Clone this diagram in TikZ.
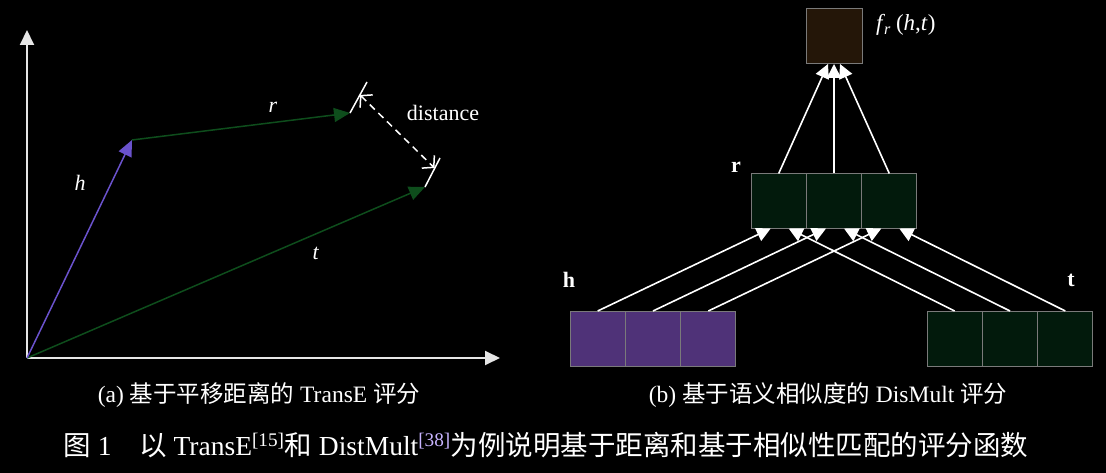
\documentclass[tikz,border=0pt]{standalone}
\usepackage{fontspec}
\setmainfont{Liberation Serif}
\newfontfamily\cjk{Noto Sans CJK SC}
\usetikzlibrary{arrows.meta}
\definecolor{axisgray}{HTML}{E6E6E6}
\definecolor{hpurple}{HTML}{6A52CC}
\definecolor{vgreen}{HTML}{0E4D1C}
\definecolor{boxpurple}{HTML}{4F3278}
\definecolor{boxgreen}{HTML}{021A0C}
\definecolor{boxbrown}{HTML}{241608}
\definecolor{boxborder}{HTML}{7A7A7A}
\definecolor{reflilac}{HTML}{C8B4FF}
\tikzset{
  axis/.style={draw=axisgray, line width=2pt, -{Triangle[length=15pt,width=14pt]}},
  vec/.style={line width=1.5pt, -{Triangle[length=16pt,width=14pt]}},
  tickline/.style={draw=white, line width=1.5pt},
  dist/.style={draw=white, line width=1.5pt, dash pattern=on 7pt off 5pt,
    {Straight Barb[length=8pt,width=18pt]}-{Straight Barb[length=8pt,width=18pt]}},
  lab/.style={text=white, font=\fontsize{22}{26}\selectfont, inner sep=0pt},
  cell/.style={draw=boxborder, line width=1pt, minimum width=55.3pt, minimum height=55pt, inner sep=0pt, outer sep=0pt},
  conn/.style={draw=white, line width=1.6pt, -{Triangle[length=14pt,width=14pt]}},
  subcap/.style={text=white, font=\fontsize{23.5}{27}\selectfont, inner sep=0pt},
  bigcap/.style={text=white, font=\fontsize{27.5}{31}\selectfont, inner sep=0pt}
}
\begin{document}
\begin{tikzpicture}[x=1pt,y=-1pt]
\fill[black] (0,0) rectangle (1106,473);
\useasboundingbox (0,0) rectangle (1106,473);
% ---------- panel (a) ----------
\coordinate (O) at (27,358);
\coordinate (Ytip) at (27,30);
\coordinate (Xtip) at (500,358);
\coordinate (H) at (132,140);
\coordinate (R) at (350,113);
\coordinate (T) at (425,187);
\coordinate (Rt) at (367,82);
\coordinate (Tt) at (440,158);
\coordinate (D1) at (360,95);
\coordinate (D2) at (434.5,168);
\draw[axis] (O) -- (Ytip);
\draw[axis] (O) -- (Xtip);
\draw[vec, draw=vgreen, fill=vgreen] (O) -- (T);
\draw[vec, draw=hpurple, fill=hpurple] (O) -- (H);
\draw[vec, draw=vgreen, fill=vgreen] (H) -- (R);
\draw[tickline] (R) -- (Rt);
\draw[tickline] (T) -- (Tt);
\draw[dist] (D1) -- (D2);
\node[lab] (lr) at (273,107) {\textit{r}};
\node[lab] (lh) at (80,183) {\textit{h}};
\node[lab] (lt) at (316,253) {\textit{t}};
\node[lab] (ld) at (443,113) {distance};
% ---------- panel (b) ----------
\node[cell, fill=boxbrown, minimum width=56pt] (f) at (834,36.5) {};
\node[lab, anchor=west, font=\fontsize{23}{27}\selectfont] (fl) at (876,25) {\textit{f}\textsubscript{\kern-1pt\textit{r}}\kern5pt(\textit{h},\textit{t})};
\node[cell, fill=boxgreen] (r2) at (834,201) {};
\node[cell, fill=boxgreen, anchor=east] (r1) at (r2.west) {};
\node[cell, fill=boxgreen, anchor=west] (r3) at (r2.east) {};
\node[cell, fill=boxpurple] (h2) at (653,338.5) {};
\node[cell, fill=boxpurple, anchor=east] (h1) at (h2.west) {};
\node[cell, fill=boxpurple, anchor=west] (h3) at (h2.east) {};
\node[cell, fill=boxgreen] (t2) at (1010,338.5) {};
\node[cell, fill=boxgreen, anchor=east] (t1) at (t2.west) {};
\node[cell, fill=boxgreen, anchor=west] (t3) at (t2.east) {};
\node[lab, font=\fontsize{22}{26}\selectfont\bfseries] (rl) at (736,167) {r};
\node[lab, font=\fontsize{22}{26}\selectfont\bfseries] (hl) at (569,280) {h};
\node[lab, font=\fontsize{22}{26}\selectfont\bfseries] (tl) at (1071,280) {t};
% r -> f
\draw[conn] (r1.north) -- ([xshift=-6pt]f.south);
\draw[conn] (r2.north) -- (f.south);
\draw[conn] (r3.north) -- ([xshift=6pt]f.south);
% h, t -> r
\foreach \i in {1,2,3}{
  \draw[conn] (h\i.north) -- ([xshift=-8pt]r\i.south);
  \draw[conn] (t\i.north) -- ([xshift=10pt]r\i.south);
}
% ---------- captions ----------
\node[subcap] (capa) at (259,395) {(a) {\cjk 基于平移距离的} TransE {\cjk 评分}};
\node[subcap] (capb) at (828,395) {(b) {\cjk 基于语义相似度的} DisMult {\cjk 评分}};
\node[bigcap] (capm) at (546,445) {{\cjk 图} 1{\cjk 　以} TransE\textsuperscript{[15]}{\cjk 和} DistMult\textsuperscript{\textcolor{reflilac}{[38]}}{\cjk 为例说明基于距离和基于相似性匹配的评分函数}};
\end{tikzpicture}
\end{document}
